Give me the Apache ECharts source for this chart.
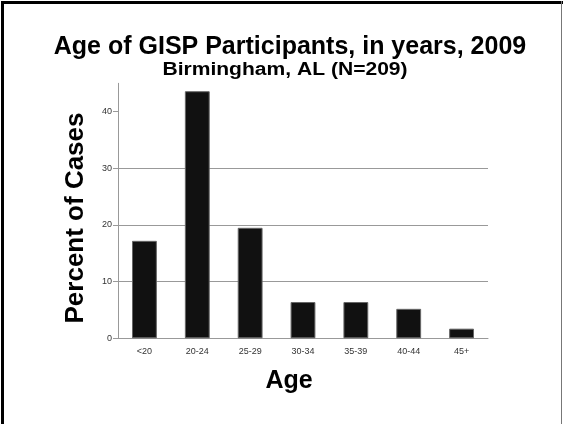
<!DOCTYPE html>
<html>
<head>
<meta charset="utf-8">
<script src="https://cdn.jsdelivr.net/npm/echarts@6/dist/echarts.min.js"></script>
<style>
  html, body { margin: 0; padding: 0; background: #fff; }
  #chart { width: 563px; height: 424px; }
</style>
</head>
<body>
<div id="chart"></div>
<script>
// 年龄分组及百分比
var ageGroups = ['<20', '20-24', '25-29', '30-34', '35-39', '40-44', '45+'];
var percentCases = [17.2, 43.6, 19.5, 6.4, 6.4, 5.2, 1.7];
var yTicks = [0, 10, 20, 30, 40];

var myChart = echarts.init(document.getElementById('chart'));
var font = 'Liberation Sans, Arial, sans-serif';

var option = {
    backgroundColor: '#fff',
    animation: false,
    title: [
        {
            text: 'Age of GISP Participants, in years, 2009',
            left: 285, top: 30, textAlign: 'center',
            textStyle: { fontFamily: font, fontSize: 25, fontWeight: 'bold', color: '#000' }
        },
        {
            text: 'Age',
            left: 284, top: 364, textAlign: 'center',
            textStyle: { fontFamily: font, fontSize: 25, fontWeight: 'bold', color: '#000' }
        }
    ],
    graphic: [
        // 边框
        { type: 'rect', shape: { x: 1, y: 1, width: 3, height: 423 }, style: { fill: '#000' } },
        { type: 'rect', shape: { x: 1, y: 1, width: 562, height: 3 }, style: { fill: '#000' } },
        { type: 'rect', shape: { x: 561, y: 1, width: 1, height: 423 }, style: { fill: '#777' } },
        // 副标题（略宽）
        {
            type: 'text', x: 285, y: 70, scaleX: 1.17,
            style: {
                text: 'Birmingham, AL (N=209)', fontFamily: font, fontSize: 18, fontWeight: 'bold',
                fill: '#000', textAlign: 'center', textVerticalAlign: 'middle'
            }
        },
        {
            type: 'text', x: 76, y: 218, rotation: Math.PI / 2,
            style: {
                text: 'Percent of Cases', fontFamily: font, fontSize: 26, fontWeight: 'bold',
                fill: '#000', textAlign: 'center', textVerticalAlign: 'middle'
            }
        }
    ],
    grid: { left: 118, right: 75, top: 83.3, bottom: 85.7 },
    xAxis: {
        type: 'category',
        data: ageGroups,
        axisLine: { lineStyle: { color: '#999', width: 1 } },
        axisTick: { show: false },
        axisLabel: { fontFamily: font, fontSize: 9, color: '#333', margin: 9 }
    },
    yAxis: {
        type: 'value',
        min: 0, max: 45, interval: 10,
        axisLine: { show: true, lineStyle: { color: '#999', width: 1 } },
        axisTick: { show: true, length: 5, lineStyle: { color: '#999' }, customValues: yTicks },
        axisLabel: { fontFamily: font, fontSize: 9, color: '#333', margin: 6, customValues: yTicks },
        splitLine: { show: true, showMaxLine: false, lineStyle: { color: '#999', width: 1 } }
    },
    series: [
        {
            type: 'bar',
            data: percentCases,
            barWidth: '47%',
            itemStyle: { color: '#111', borderColor: '#666', borderWidth: 1 }
        }
    ]
};
myChart.setOption(option);
</script>
</body>
</html>
